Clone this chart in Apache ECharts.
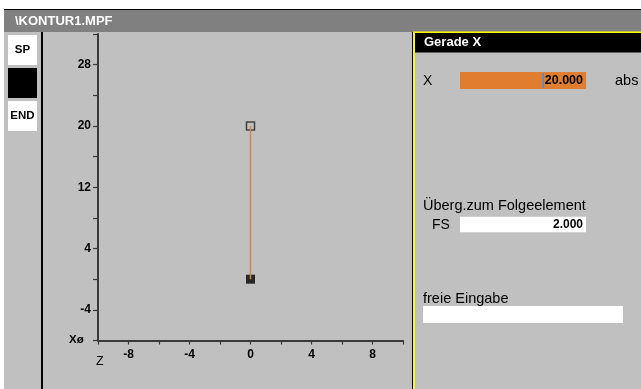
<!DOCTYPE html>
<html><head><meta charset="utf-8">
<script src="https://cdn.jsdelivr.net/npm/echarts@6/dist/echarts.min.js"></script>
<style>html,body{margin:0;padding:0;background:#fff}#c{width:641px;height:389px}</style>
</head><body><div id="c"></div>
<script>
// contour points (Z, X)
const zValues = [0, 0];
const xValues = [0, 20];
const startPoint = [0, 0];
const endPoint = [0, 20];
const zAxisRange = [-10, 10];
const xAxisRange = [-8, 32];
const zLabelTicks = [-8, -4, 0, 4, 8];
const xLabelTicks = [-4, 4, 12, 20, 28];
const fieldX = '20.000';
const fieldFS = '2.000';

const FF = '"Liberation Sans", Arial, sans-serif';
const chart = echarts.init(document.getElementById('c'), null, {renderer: 'canvas'});

function txt(text, x, y, size, opts) {
  opts = opts || {};
  return {type: 'text', z: 10, style: {
    text: text, x: x, y: y,
    font: (opts.bold ? 'bold ' : '') + size + 'px ' + FF,
    fill: opts.fill || '#000',
    textAlign: opts.align || 'left', textVerticalAlign: 'middle'
  }};
}
function rect(x, y, w, h, fill, opts) {
  opts = opts || {};
  return {type: 'rect', z: opts.z || 1, shape: {x: x, y: y, width: w, height: h},
    style: {fill: fill, stroke: opts.stroke || null, lineWidth: opts.lw || 0}};
}

const graphics = [
  rect(0, 0, 641, 9, '#ffffff'),
  rect(0, 0, 4, 389, '#ffffff'),
  rect(4, 9, 637, 1.2, '#000000'),
  rect(4, 10, 637, 22, '#808080'),
  txt('\\KONTUR1.MPF', 15, 21.5, 13, {bold: true, fill: '#ffffff'}),
  // left buttons
  rect(8, 35, 29, 30, '#ffffff'),
  txt('SP', 22.5, 50, 11.5, {bold: true, align: 'center'}),
  rect(8, 68, 29, 30, '#000000'),
  rect(8, 101, 29, 30, '#ffffff'),
  txt('END', 22.5, 116, 11.5, {bold: true, align: 'center'}),
  rect(41, 32, 2, 357, '#000000'),
  // right panel
  rect(412, 32, 1, 357, '#000000'),
  rect(413, 32, 2, 357, '#ffff00'),
  rect(413, 31.5, 228, 1.5, '#ffff00'),
  rect(415, 33, 226, 19.5, '#000000'),
  txt('Gerade X', 424, 42.5, 13, {bold: true, fill: '#ffffff'}),
  txt('X', 423, 81, 14),
  rect(460, 72, 126, 17, '#e07d2e'),
  rect(542.5, 73, 1.5, 15, '#4a8fd6', {z: 2}),
  txt(fieldX, 583, 81, 12.5, {bold: true, align: 'right'}),
  txt('abs', 615, 81, 14.5),
  txt('Überg.zum Folgeelement', 423, 206, 14.5),
  txt('FS', 432, 225, 14),
  rect(460, 216.7, 126, 15.6, '#ffffff'),
  txt(fieldFS, 583, 225, 12, {bold: true, align: 'right'}),
  txt('freie Eingabe', 423, 298.5, 14.5),
  rect(423, 306, 200, 17, '#ffffff'),
  // axis names
  txt('Xø', 69, 340, 11.5, {bold: true}),
  txt('Z', 96, 362, 12.5, {bold: false})
];

chart.setOption({
  backgroundColor: '#c0c0c0',
  animation: false,
  graphic: graphics,
  grid: {left: 98, top: 34, width: 305, height: 306.5, containLabel: false},
  xAxis: {
    type: 'value', min: zAxisRange[0], max: zAxisRange[1], interval: 2,
    axisLine: {onZero: false, lineStyle: {color: '#3a3a3a', width: 2}},
    axisTick: {length: 4, lineStyle: {color: '#3a3a3a', width: 1.2}},
    splitLine: {show: false},
    axisLabel: {
      margin: 8, color: '#000', fontWeight: 'bold', fontSize: 12, fontFamily: FF,
      formatter: v => zLabelTicks.indexOf(v) >= 0 ? String(v) : ''
    }
  },
  yAxis: {
    type: 'value', min: xAxisRange[0], max: xAxisRange[1], interval: 4,
    axisLine: {onZero: false, lineStyle: {color: '#3a3a3a', width: 2}},
    axisTick: {length: 5, lineStyle: {color: '#3a3a3a', width: 1.2}},
    splitLine: {show: false},
    axisLabel: {
      margin: 7, color: '#000', fontWeight: 'bold', fontSize: 12, fontFamily: FF,
      formatter: v => xLabelTicks.indexOf(v) >= 0 ? String(v) : ''
    }
  },
  series: [
    {type: 'scatter', data: [startPoint], symbol: 'rect', symbolSize: 9,
      itemStyle: {color: '#000'}, z: 2},
    {type: 'scatter', data: [endPoint], symbol: 'rect', symbolSize: 8,
      itemStyle: {color: 'rgba(0,0,0,0)', borderColor: '#222', borderWidth: 1.5}, z: 2},
    {type: 'line', data: zValues.map((z, i) => [z, xValues[i]]), symbol: 'none',
      lineStyle: {color: '#c98b4f', width: 1.5}, z: 3}
  ]
});
</script></body></html>
